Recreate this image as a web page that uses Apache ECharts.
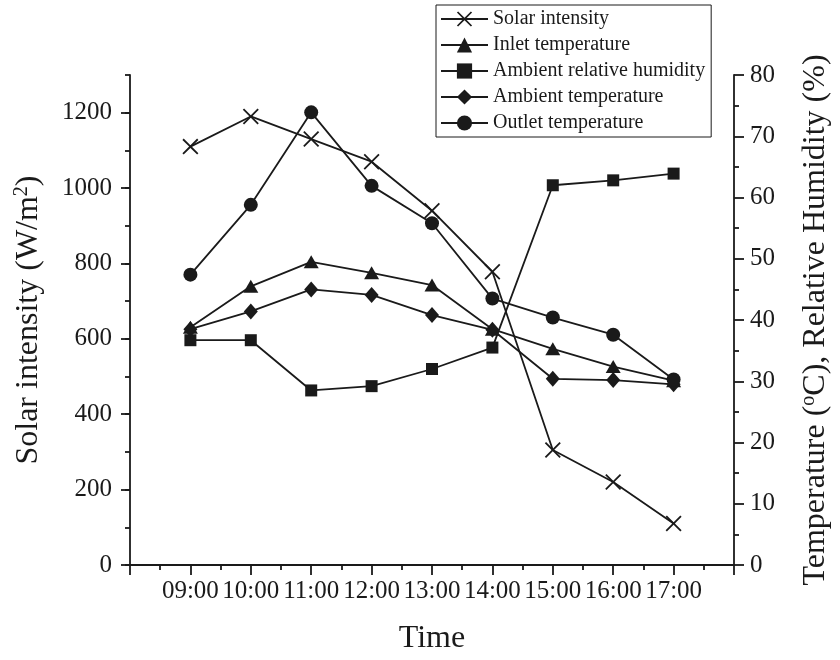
<!DOCTYPE html>
<html>
<head>
<meta charset="utf-8">
<script src="https://cdn.jsdelivr.net/npm/echarts@6/dist/echarts.min.js"></script>
<style>html,body{margin:0;padding:0;background:#fff;}#c{width:840px;height:660px;}</style>
</head>
<body>
<div id="c"></div>
<script>
const hours = [9, 10, 11, 12, 13, 14, 15, 16, 17];
const solarIntensity = [1110, 1190, 1130, 1070, 940, 778, 305, 220, 110];
const inletTemp = [38.8, 45.5, 49.5, 47.7, 45.7, 38.5, 35.3, 32.4, 30.1];
const ambientRH = [36.7, 36.7, 28.5, 29.2, 32.0, 35.5, 62.0, 62.8, 63.9];
const ambientTemp = [38.5, 41.4, 45.0, 44.1, 40.8, 38.4, 30.4, 30.2, 29.5];
const outletTemp = [47.4, 58.8, 73.9, 61.9, 55.8, 43.5, 40.4, 37.6, 30.3];
const leftTicks = [0, 200, 400, 600, 800, 1000, 1200];

const FONT = 'Liberation Serif';
const INK = '#1a1a1a';
const pair = arr => arr.map((v, i) => [hours[i], v]);
const crossPath = 'path://M0,0.8L0.8,0L5,4.2L9.2,0L10,0.8L5.8,5L10,9.2L9.2,10L5,5.8L0.8,10L0,9.2L4.2,5Z';

function mkSeries(name, data, yIdx, symbol, size) {
  return {
    name, type: 'line', xAxisIndex: 0, yAxisIndex: yIdx, data: pair(data),
    symbol, symbolSize: size, showAllSymbol: true,
    lineStyle: {color: INK, width: 1.8},
    itemStyle: {color: INK, borderWidth: 0},
    emphasis: {disabled: true}, z: 3
  };
}

const chart = echarts.init(document.getElementById('c'), null, {renderer: 'canvas'});
const axisLine = {show: true, lineStyle: {color: INK, width: 1.8}};
chart.setOption({
  animation: false,
  backgroundColor: '#fff',
  textStyle: {fontFamily: FONT, color: INK},
  grid: {left: 130, right: 98, top: 75, bottom: 91, containLabel: false},
  legend: {
    orient: 'vertical', left: 436, top: 5,
    width: 275,
    padding: [3, 6, 3, 4],
    borderColor: INK, borderWidth: 1, backgroundColor: '#fff',
    itemWidth: 47, itemHeight: 19, itemGap: 4,
    textStyle: {fontFamily: FONT, fontSize: 20, color: INK, lineHeight: 22},
    data: ['Solar intensity', 'Inlet temperature', 'Ambient relative humidity', 'Ambient temperature', 'Outlet temperature']
  },
  xAxis: [{
    type: 'value', min: 8, max: 18, interval: 1,
    name: 'Time', nameLocation: 'middle', nameGap: 58,
    nameTextStyle: {fontFamily: FONT, fontSize: 32, color: INK},
    axisLine: axisLine,
    axisTick: {show: true, length: 10, lineStyle: {color: INK, width: 1.8}},
    minorTick: {show: true, splitNumber: 2, length: 5, lineStyle: {color: INK, width: 1.8}},
    splitLine: {show: false},
    axisLabel: {
      margin: 14, fontFamily: FONT, fontSize: 25, color: INK,
      formatter: v => (v >= 9 && v <= 17) ? (v < 10 ? '0' + v : '' + v) + ':00' : ''
    }
  }],
  yAxis: [{
    type: 'value', position: 'left', min: 0, max: 1300, interval: 200,
    name: 'Solar intensity (W/m{sup|2})', nameLocation: 'middle', nameGap: 84,
    nameTextStyle: {fontFamily: FONT, fontSize: 32, color: INK,
      rich: {sup: {fontFamily: FONT, fontSize: 20, color: INK, verticalAlign: 'top', padding: [0, 0, 14, 0]}}},
    axisLine: axisLine,
    axisTick: {show: true, length: 9, customValues: leftTicks, lineStyle: {color: INK, width: 1.8}},
    splitLine: {show: false},
    axisLabel: {margin: 18, fontFamily: FONT, fontSize: 25, color: INK, customValues: leftTicks,
      formatter: v => String(v)}
  }, {
    type: 'value', position: 'right', min: 0, max: 80, interval: 10,
    name: 'Temperature ({sup|o}C), Relative Humidity (%)', nameLocation: 'middle', nameGap: 65,
    nameTextStyle: {fontFamily: FONT, fontSize: 32, color: INK,
      rich: {sup: {fontFamily: FONT, fontSize: 20, color: INK, verticalAlign: 'top', padding: [0, 0, 14, 0]}}},
    axisLine: axisLine,
    axisTick: {show: true, length: 10, lineStyle: {color: INK, width: 1.8}},
    minorTick: {show: true, splitNumber: 2, length: 5, lineStyle: {color: INK, width: 1.8}},
    splitLine: {show: false},
    axisLabel: {margin: 16, fontFamily: FONT, fontSize: 25, color: INK, formatter: v => String(v)}
  }, {
    type: 'value', position: 'left', min: 0, max: 1300, interval: 100,
    axisLine: {show: false},
    axisTick: {show: true, length: 5, lineStyle: {color: INK, width: 1.8}},
    axisLabel: {show: false},
    splitLine: {show: false}
  }],
  series: [
    mkSeries('Solar intensity', solarIntensity, 0, crossPath, 16),
    mkSeries('Inlet temperature', inletTemp, 1, 'triangle', [15, 13]),
    mkSeries('Ambient relative humidity', ambientRH, 1, 'rect', 12),
    mkSeries('Ambient temperature', ambientTemp, 1, 'diamond', [14, 16]),
    mkSeries('Outlet temperature', outletTemp, 1, 'circle', 14)
  ]
});
</script>
</body>
</html>
